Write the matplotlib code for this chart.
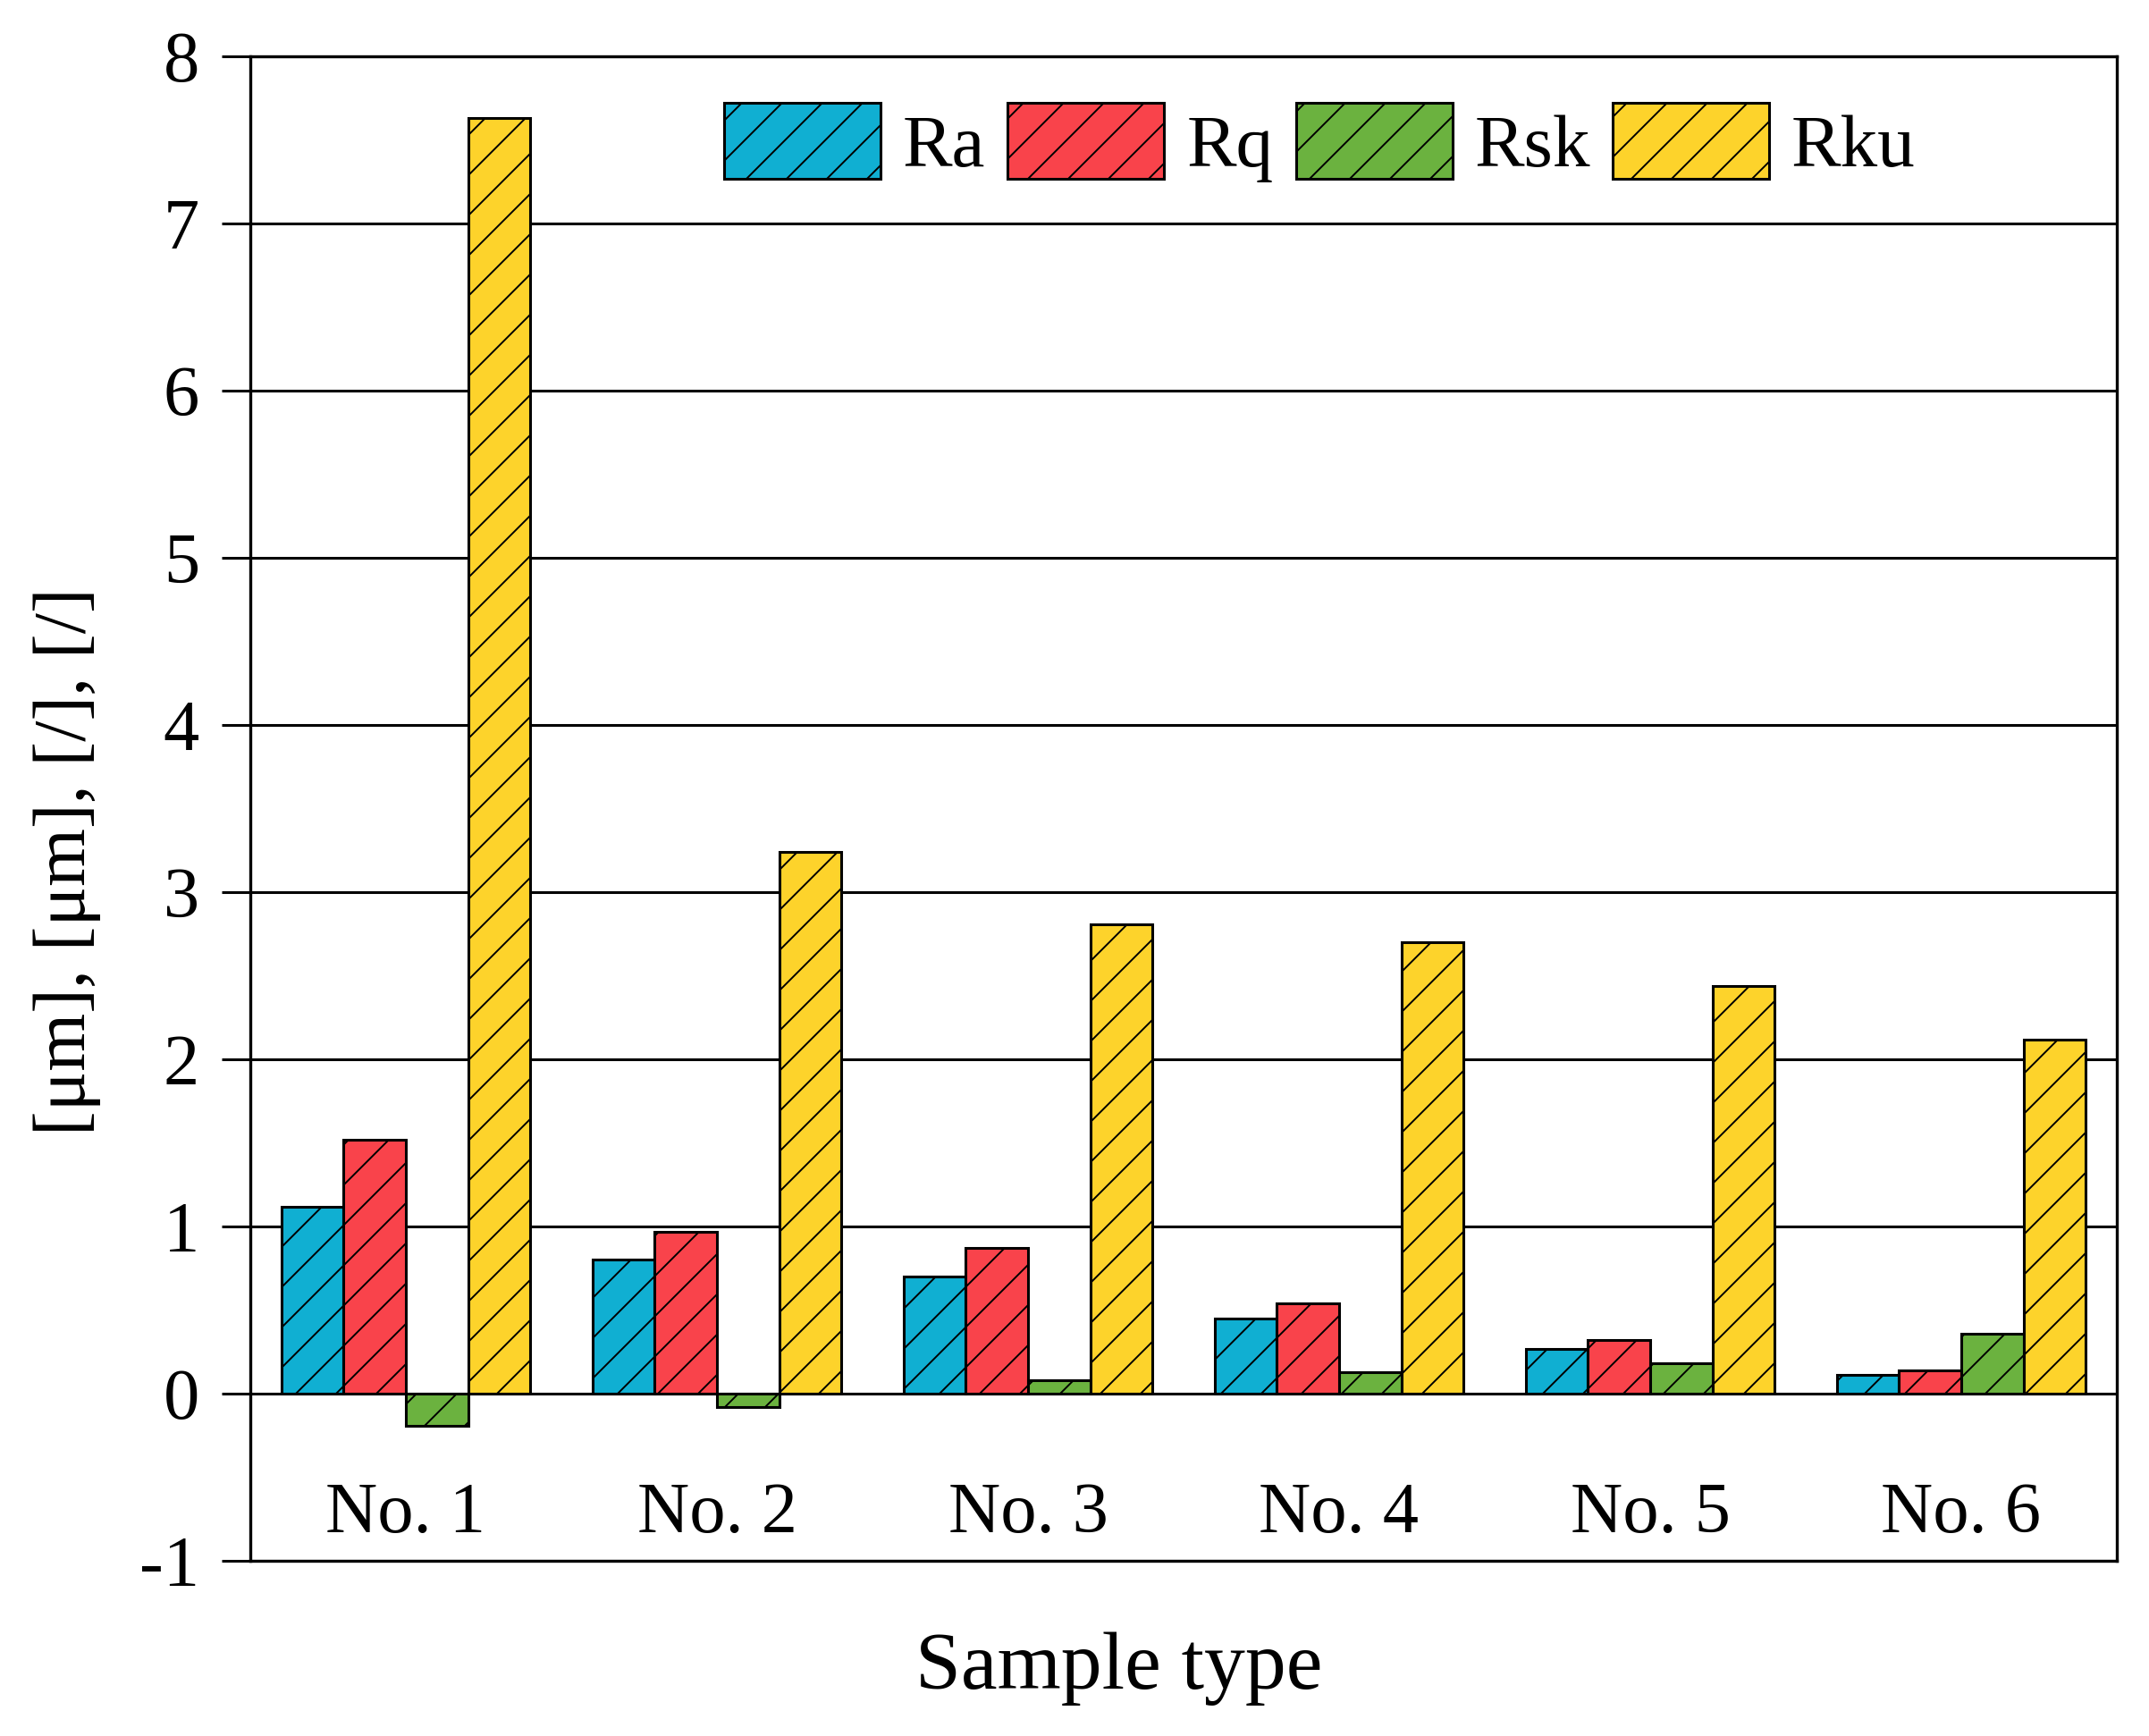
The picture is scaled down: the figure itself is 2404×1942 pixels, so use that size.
import numpy as np
import matplotlib
matplotlib.use("Agg")
import matplotlib.pyplot as plt

categories = ["No. 1", "No. 2", "No. 3", "No. 4", "No. 5", "No. 6"]
series_names = ["Ra", "Rq", "Rsk", "Rku"]
Ra = [1.12, 0.80, 0.70, 0.45, 0.27, 0.11]
Rq = [1.52, 0.97, 0.87, 0.54, 0.32, 0.14]
Rsk = [-0.19, -0.08, 0.08, 0.13, 0.18, 0.36]
Rku = [7.63, 3.24, 2.81, 2.70, 2.44, 2.12]
yticks = [-1, 0, 1, 2, 3, 4, 5, 6, 7, 8]

colors = ["#10AFD2", "#F9434B", "#6BB23F", "#FDD32B"]

DPI = 135
S = 200 / DPI  # size scale relative to design at dpi 200

plt.rcParams["font.family"] = ["Liberation Serif", "DejaVu Serif"]
plt.rcParams["hatch.color"] = "#1a1a1a"
plt.rcParams["hatch.linewidth"] = 0.7 * S

fig = plt.figure(figsize=(2404 / DPI, 1942 / DPI), dpi=DPI)
ax = fig.add_axes([0.1165, 0.1009, 0.985 - 0.1165, 0.9676 - 0.1009])

x = np.arange(len(categories))
width = 0.2
data = [Ra, Rq, Rsk, Rku]
for i, (name, vals, c) in enumerate(zip(series_names, data, colors)):
    ax.bar(x + (i - 1.5) * width, vals, width, color=c, edgecolor="black",
           linewidth=1.1 * S, hatch="/", label=name, zorder=3)

ax.set_xlim(-0.5, len(categories) - 0.5)
ax.set_ylim(-1, 8)
ax.set_yticks(yticks)
ax.set_yticklabels([str(v) for v in yticks])
ax.yaxis.grid(True, color="black", linewidth=1.1 * S, zorder=1)
ax.set_axisbelow(True)
ax.tick_params(axis="y", length=11.5 * S, width=1.1 * S, pad=9 * S,
               labelsize=29 * S, direction="out")
ax.set_xticks([])
for s in ax.spines.values():
    s.set_linewidth(1.2 * S)
    s.set_color("black")

for xi, lab in zip(x, categories):
    ax.text(xi, -0.83, lab, ha="center", va="baseline", fontsize=29 * S)

ax.set_ylabel("[μm], [μm], [/], [/]", fontsize=30 * S)
ax.yaxis.set_label_coords(-0.080, 0.465)
fig.text(1252 / 2404, 1 - 1867 / 1942, "Sample type", ha="center", va="center",
         fontsize=33 * S)

leg = ax.legend(ncol=4, loc="upper center", bbox_to_anchor=(0.573, 0.979),
                frameon=False, fontsize=30 * S, handlelength=2.1, handleheight=1.2,
                handletextpad=0.3, columnspacing=0.3, borderaxespad=0, borderpad=0.2)

fig.savefig("out.png", dpi=DPI, facecolor="white")
